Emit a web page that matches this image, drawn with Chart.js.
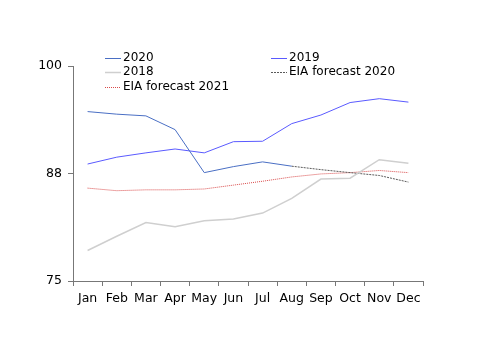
<!DOCTYPE html>
<html>
<head>
<meta charset="utf-8">
<script src="https://cdn.jsdelivr.net/npm/chart.js@4/dist/chart.umd.min.js"></script>
<style>
  html, body { margin: 0; padding: 0; background: #fff; }
  #wrap { width: 500px; height: 353px; }
</style>
</head>
<body>
<div id="wrap"><canvas id="myChart" width="500" height="353"></canvas></div>
<script>
// --- Data ---
const months = ['Jan', 'Feb', 'Mar', 'Apr', 'May', 'Jun', 'Jul', 'Aug', 'Sep', 'Oct', 'Nov', 'Dec'];
const yTicks = [75, 87.5, 100];
const s2020 = [94.7, 94.4, 94.2, 92.6, 87.6, 88.3, 88.85, 88.35, null, null, null, null];
const s2019 = [88.6, 89.4, 89.9, 90.35, 89.9, 91.2, 91.25, 93.3, 94.3, 95.75, 96.2, 95.8];
const s2018 = [78.55, 80.2, 81.8, 81.3, 82.0, 82.2, 82.9, 84.6, 86.85, 86.95, 89.1, 88.7];
const eia2020 = [null, null, null, null, null, null, null, 88.35, 87.95, 87.6, 87.27, 86.5];
const eia2021 = [85.8, 85.5, 85.6, 85.6, 85.7, 86.15, 86.6, 87.1, 87.45, 87.6, 87.85, 87.6];

const FONT = 'DejaVu Sans, Verdana, sans-serif';

// two-column legend drawn on the canvas
const sideLegend = {
    id: 'sideLegend',
    afterDraw(chart) {
        const ctx = chart.ctx;
        const cols = [105, 271];
        const rows = [58, 72, 87];
        ctx.save();
        ctx.font = '12px ' + FONT;
        ctx.textBaseline = 'middle';
        ctx.textAlign = 'left';
        chart.data.datasets.forEach((ds, i) => {
            const x = cols[i % 2];
            const y = rows[Math.floor(i / 2)];
            ctx.strokeStyle = ds.borderColor;
            ctx.lineWidth = ds.borderWidth;
            ctx.setLineDash(ds.borderDash || []);
            ctx.beginPath();
            ctx.moveTo(x, y + 0.5);
            ctx.lineTo(x + 16, y + 0.5);
            ctx.stroke();
            ctx.setLineDash([]);
            ctx.fillStyle = '#000';
            ctx.fillText(ds.label, x + 18, y);
        });
        ctx.restore();
    }
};

const ctx = document.getElementById('myChart').getContext('2d');
const myChart = new Chart(ctx, {
    type: 'line',
    data: {
        labels: months,
        datasets: [
            { label: '2020', data: s2020, borderColor: '#4a6fc4', borderWidth: 1 },
            { label: '2019', data: s2019, borderColor: '#5a5aff', borderWidth: 1 },
            { label: '2018', data: s2018, borderColor: '#cfcfcf', borderWidth: 1.5 },
            { label: 'EIA forecast 2020', data: eia2020, borderColor: '#5a5a5a', borderWidth: 1, borderDash: [2, 1] },
            { label: 'EIA forecast 2021', data: eia2021, borderColor: '#d94a4a', borderWidth: 1, borderDash: [1, 1] }
        ]
    },
    options: {
        responsive: false,
        animation: false,
        elements: {
            point: { radius: 0, hoverRadius: 0 },
            line: { tension: 0, fill: false }
        },
        layout: { padding: { top: 66, right: 77, left: 0, bottom: 0 } },
        scales: {
            x: {
                offset: true,
                grid: { offset: true, drawOnChartArea: false, tickLength: 5, color: '#777' },
                border: { display: true, color: '#777' },
                ticks: { color: '#000', font: { family: FONT, size: 12.5 }, padding: 5, maxRotation: 0, autoSkip: false },
                afterFit(scale) { scale.height = 72; }
            },
            y: {
                min: 75,
                max: 100,
                afterBuildTicks(scale) { scale.ticks = yTicks.map(v => ({ value: v })); },
                grid: { drawOnChartArea: false, tickLength: 5, color: '#777' },
                border: { display: true, color: '#777' },
                ticks: {
                    color: '#000',
                    font: { family: FONT, size: 12.5 },
                    padding: 6,
                    callback: v => Math.round(v)
                },
                afterFit(scale) { scale.width = 73; }
            }
        },
        plugins: {
            legend: { display: false },
            tooltip: { enabled: false }
        }
    },
    plugins: [sideLegend]
});
</script>
</body>
</html>
